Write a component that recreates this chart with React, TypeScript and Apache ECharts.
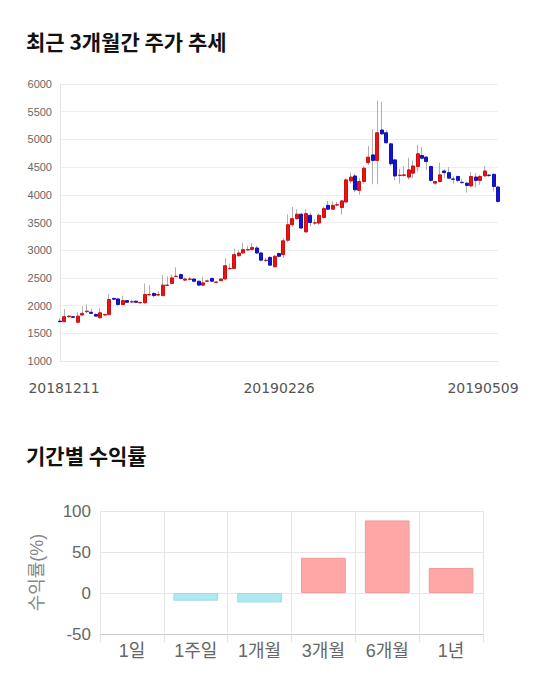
import React, { useEffect, useRef } from "react";
import * as echarts from "echarts";

const dates = [
  "20181211", "20181212", "20181213", "20181214", "20181217", "20181218", "20181219", "20181220", "20181221", "20181224", "20181226", "20181227", "20181228",
  "20190102", "20190103", "20190104", "20190107", "20190108", "20190109", "20190110", "20190111", "20190114", "20190115", "20190116", "20190117", "20190118", "20190121", "20190122", "20190123", "20190124", "20190125", "20190128", "20190129", "20190130", "20190131",
  "20190201", "20190207", "20190208", "20190211", "20190212", "20190213", "20190214", "20190215", "20190218", "20190219", "20190220", "20190221", "20190222", "20190225", "20190226", "20190227", "20190228",
  "20190304", "20190305", "20190306", "20190307", "20190308", "20190311", "20190312", "20190313", "20190314", "20190315", "20190318", "20190319", "20190320", "20190321", "20190322", "20190325", "20190326", "20190327", "20190328", "20190329",
  "20190401", "20190402", "20190403", "20190404", "20190405", "20190408", "20190409", "20190410", "20190411", "20190412", "20190415", "20190416", "20190417", "20190418", "20190419", "20190422", "20190423", "20190424", "20190425", "20190426", "20190429", "20190430",
  "20190502", "20190503", "20190507", "20190508", "20190509",
];

const openP = [
  1720, 1710, 1800, 1800, 1700, 1830, 1890, 1880, 1840, 1780, 1830, 1840, 2130, 2120, 2020, 2090, 2065, 2080, 2050, 2050,
  2195, 2220, 2190, 2180, 2365, 2400, 2525, 2560, 2460, 2475, 2480, 2440, 2370, 2440, 2490, 2420, 2450, 2480, 2665, 2670,
  2900, 2950, 3005, 3010, 3040, 2950, 2815, 2870, 2700, 2940, 2920, 3180, 3460, 3570, 3650, 3330, 3630, 3490, 3490, 3590,
  3810, 3740, 3815, 3770, 3870, 4250, 4340, 4080, 4240, 4580, 4720, 4620, 5170, 5120, 4920, 4630, 4350, 4350, 4320, 4390,
  4510, 4710, 4680, 4510, 4210, 4240, 4430, 4400, 4285, 4330, 4225, 4210, 4160, 4320, 4260, 4340, 4355, 4370, 4140,
];
const closeP = [
  1710, 1800, 1810, 1790, 1810, 1860, 1900, 1860, 1810, 1870, 1840, 2110, 2115, 2020, 2090, 2060, 2070, 2060, 2055, 2200,
  2200, 2180, 2200, 2370, 2370, 2500, 2530, 2490, 2480, 2480, 2440, 2370, 2410, 2445, 2440, 2425, 2480, 2720, 2670, 2920,
  2950, 3010, 3010, 3050, 2950, 2820, 2820, 2730, 2890, 2890, 3170, 3460, 3570, 3650, 3400, 3660, 3500, 3495, 3630, 3750,
  3740, 3810, 3820, 3890, 4270, 4320, 4090, 4240, 4480, 4680, 4620, 5120, 5100, 4940, 4560, 4340, 4355, 4360, 4450, 4520,
  4740, 4660, 4600, 4260, 4240, 4360, 4400, 4300, 4280, 4260, 4220, 4170, 4330, 4260, 4330, 4430, 4350, 4150, 3880,
];
const lowP = [
  1700, 1700, 1780, 1770, 1680, 1820, 1860, 1850, 1800, 1770, 1820, 1830, 2100, 2000, 2000, 2050, 2050, 2050, 2040, 2040,
  2180, 2150, 2170, 2170, 2350, 2390, 2510, 2470, 2440, 2450, 2420, 2350, 2350, 2420, 2430, 2400, 2440, 2470, 2650, 2660,
  2880, 2940, 2990, 3000, 2930, 2800, 2790, 2720, 2690, 2870, 2860, 3150, 3420, 3550, 3380, 3320, 3430, 3460, 3460, 3570,
  3720, 3730, 3790, 3640, 3860, 4200, 4050, 4000, 4200, 4540, 4190, 4190, 5080, 4920, 4520, 4260, 4200, 4330, 4270, 4300,
  4420, 4640, 4450, 4240, 4180, 4220, 4300, 4290, 4200, 4220, 4200, 4040, 4130, 4130, 4180, 4330, 4320, 4060, 3860,
];
const highP = [
  1770, 1940, 1830, 1810, 1880, 1990, 2020, 1950, 1860, 1960, 1850, 2210, 2140, 2130, 2180, 2100, 2110, 2090, 2070, 2400,
  2370, 2240, 2260, 2550, 2530, 2560, 2690, 2580, 2510, 2520, 2490, 2450, 2520, 2470, 2510, 2440, 2500, 2860, 2760, 3030,
  3010, 3130, 3080, 3130, 3080, 2970, 2860, 2890, 2920, 2960, 3220, 3650, 3780, 3740, 3670, 3740, 3680, 3560, 3660, 3790,
  3890, 3880, 3870, 3910, 4300, 4400, 4380, 4300, 4520, 4880, 5180, 5700, 5680, 5170, 4940, 4650, 4470, 4520, 4670, 4620,
  4900, 4860, 4700, 4530, 4250, 4580, 4460, 4500, 4330, 4350, 4290, 4230, 4410, 4390, 4360, 4520, 4370, 4380, 4160,
];

const yTicks = { min: 1000, max: 6000, step: 500 };

const periods = ["1일", "1주일", "1개월", "3개월", "6개월", "1년"];
const returns = [0, -9.4, -11.5, 43, 88.5, 30.5];
const returnTicks = { min: -50, max: 100, step: 50 };

const labelIdx = [0, 49, 98];

export default function App() {
  const ref = useRef<HTMLDivElement>(null);
  useEffect(() => {
    document.body.style.margin = "0";
    const chart = echarts.init(ref.current!, null, { renderer: "svg" });
    const font = "'Liberation Sans', 'Noto Sans CJK KR', sans-serif";
    const wickData = dates.map((_, i) => [openP[i], closeP[i], lowP[i], highP[i]]);
    const bodyData = dates.map((_, i) => [
      openP[i],
      closeP[i],
      Math.min(openP[i], closeP[i]),
      Math.max(openP[i], closeP[i]),
    ]);
    chart.setOption({
      animation: false,
      textStyle: { fontFamily: font },
      graphic: [
        {
          type: "text",
          left: 26,
          top: 30,
          style: {
            text: "최근 3개월간 주가 추세",
            fill: "#111",
            font: "bold 21px 'Noto Sans CJK KR', sans-serif",
          },
        },
        {
          type: "text",
          left: 26,
          top: 444,
          style: {
            text: "기간별 수익률",
            fill: "#111",
            font: "bold 21px 'Noto Sans CJK KR', sans-serif",
          },
        },
      ],
      grid: [
        { left: 60, top: 84, width: 438, height: 277 },
        { left: 100, top: 511, width: 383, height: 123 },
      ],
      xAxis: [
        {
          type: "category",
          gridIndex: 0,
          data: dates,
          boundaryGap: false,
          axisLine: { show: true, lineStyle: { color: "#e6e6e6" } },
          axisTick: { show: false },
          splitLine: { show: false },
          axisLabel: {
            interval: (i: number) => labelIdx.includes(i),
            fontSize: 14,
            color: "#555",
            margin: 20,
            fontFamily: "'DejaVu Sans', sans-serif",
            formatter: (v: string, i: number) =>
              i === 0 ? "{l|" + v + "}" : i === 98 ? "{r|" + v + "}" : v,
            rich: {
              l: { fontSize: 14, color: "#555", padding: [0, 0, 0, 8] },
              r: { fontSize: 14, color: "#555", padding: [0, 30, 0, 0] },
            },
          },
        },
        {
          type: "category",
          gridIndex: 1,
          data: periods,
          axisLine: { show: true, onZero: false, lineStyle: { color: "#cccccc" } },
          axisTick: { show: true, length: 8, lineStyle: { color: "#e3e3e3" } },
          splitLine: { show: true, lineStyle: { color: "#e6e6e6" } },
          axisLabel: { fontSize: 18, color: "#666", margin: 8 },
        },
      ],
      yAxis: [
        {
          type: "value",
          gridIndex: 0,
          min: yTicks.min,
          max: yTicks.max,
          interval: yTicks.step,
          axisLine: { show: true, lineStyle: { color: "#e6e6e6" } },
          axisTick: { show: false },
          splitLine: { show: true, lineStyle: { color: "#eeeeee" } },
          axisLabel: { fontSize: 11, color: "#666", margin: 8, formatter: (v: number) => String(v) },
        },
        {
          type: "value",
          gridIndex: 1,
          min: returnTicks.min,
          max: returnTicks.max,
          interval: returnTicks.step,
          axisLine: { show: false },
          axisTick: { show: false },
          splitLine: { show: true, lineStyle: { color: "#e6e6e6" } },
          axisLabel: { fontSize: 17, color: "#666", margin: 9 },
          name: "수익률(%)",
          nameLocation: "middle",
          nameGap: 54,
          nameTextStyle: { fontSize: 18, color: "#888" },
        },
      ],
      series: [
        {
          type: "candlestick",
          xAxisIndex: 0,
          yAxisIndex: 0,
          data: wickData,
          barWidth: 1,
          itemStyle: {
            color: "#b0b0b0",
            color0: "#b0b0b0",
            borderColor: "#b0b0b0",
            borderColor0: "#b0b0b0",
            borderWidth: 1,
          },
        },
        {
          type: "candlestick",
          xAxisIndex: 0,
          yAxisIndex: 0,
          data: bodyData,
          barWidth: "78%",
          itemStyle: {
            color: "#ee1111",
            color0: "#1515cc",
            borderColor: "#cc1010",
            borderColor0: "#1010bb",
            borderWidth: 1,
          },
        },
        {
          type: "bar",
          xAxisIndex: 1,
          yAxisIndex: 1,
          barWidth: "70%",
          data: returns.map((v) => ({
            value: v,
            itemStyle:
              v > 0
                ? { color: "#ffa6a6", borderColor: "#f09a9a", borderWidth: 1 }
                : v < 0
                ? { color: "#aee9f2", borderColor: "#9ddbe6", borderWidth: 1 }
                : { color: "transparent", borderWidth: 0 },
          })),
        },
      ],
    });
    return () => chart.dispose();
  }, []);
  return <div ref={ref} style={{ width: 540, height: 683 }} />;
}
